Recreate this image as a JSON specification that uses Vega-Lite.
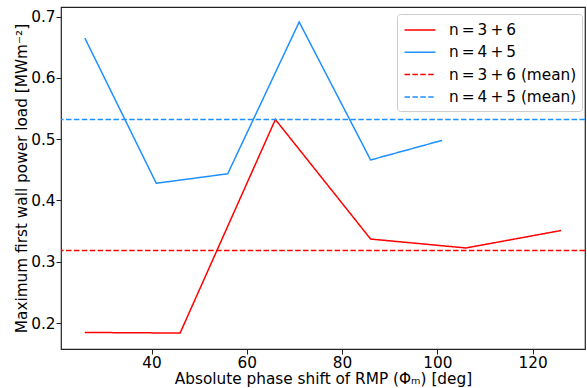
{
  "$schema": "https://vega.github.io/schema/vega-lite/v6.json",
  "width": 524,
  "height": 342,
  "autosize": {"type": "none"},
  "padding": {"left": 61, "top": 7, "right": 2, "bottom": 39},
  "config": {
    "font": "DejaVu Sans",
    "view": {"stroke": "#222", "strokeWidth": 1.2},
    "axis": {
      "domain": false,
      "grid": false,
      "tickColor": "#222",
      "tickSize": 5,
      "tickWidth": 1,
      "labelFontSize": 15.3,
      "labelColor": "#000",
      "labelPadding": 1,
      "titleFontSize": 15.3,
      "titleFontWeight": "normal",
      "titleColor": "#000"
    },
    "legend": {
      "orient": "none",
      "legendX": 336,
      "legendY": 7,
      "padding": 5,
      "strokeColor": "#cccccc",
      "fillColor": "#ffffff",
      "cornerRadius": 3,
      "labelFontSize": 15.3,
      "labelColor": "#000",
      "symbolType": "M-1.55,0H1.55",
      "symbolSize": 400,
      "symbolStrokeWidth": 1.5,
      "symbolFillColor": "transparent",
      "symbolOffset": 7,
      "labelOffset": 18,
      "rowPadding": 2.3
    }
  },
  "layer": [
    {
      "data": {
        "values": [
          {"x": 26, "y": 0.1847, "series": "n\u2009=\u20093\u2009+\u20096"},
          {"x": 46, "y": 0.1837, "series": "n\u2009=\u20093\u2009+\u20096"},
          {"x": 66, "y": 0.532, "series": "n\u2009=\u20093\u2009+\u20096"},
          {"x": 86, "y": 0.337, "series": "n\u2009=\u20093\u2009+\u20096"},
          {"x": 106, "y": 0.3225, "series": "n\u2009=\u20093\u2009+\u20096"},
          {"x": 126, "y": 0.351, "series": "n\u2009=\u20093\u2009+\u20096"},
          {"x": 26, "y": 0.665, "series": "n\u2009=\u20094\u2009+\u20095"},
          {"x": 41, "y": 0.428, "series": "n\u2009=\u20094\u2009+\u20095"},
          {"x": 56, "y": 0.4435, "series": "n\u2009=\u20094\u2009+\u20095"},
          {"x": 71, "y": 0.691, "series": "n\u2009=\u20094\u2009+\u20095"},
          {"x": 86, "y": 0.466, "series": "n\u2009=\u20094\u2009+\u20095"},
          {"x": 101, "y": 0.498, "series": "n\u2009=\u20094\u2009+\u20095"}
        ]
      },
      "mark": {"type": "line", "strokeWidth": 1.5},
      "encoding": {
        "x": {
          "field": "x",
          "type": "quantitative",
          "scale": {"domain": [21, 131], "nice": false, "zero": false},
          "axis": {"values": [40, 60, 80, 100, 120], "title": "Absolute phase shift of RMP (Φₘ) [deg]", "titlePadding": 1}
        },
        "y": {
          "field": "y",
          "type": "quantitative",
          "scale": {"domain": [0.1577, 0.7155], "nice": false, "zero": false},
          "axis": {"values": [0.2, 0.3, 0.4, 0.5, 0.6, 0.7], "format": ".1f", "title": "Maximum first wall power load [MWm⁻²]", "titlePadding": 1}
        },
        "color": {
          "field": "series",
          "type": "nominal",
          "scale": {
            "domain": ["n\u2009=\u20093\u2009+\u20096", "n\u2009=\u20094\u2009+\u20095", "n\u2009=\u20093\u2009+\u20096 (mean)", "n\u2009=\u20094\u2009+\u20095 (mean)"],
            "range": ["#ff0000", "#1e90ff", "#ff0000", "#1e90ff"]
          },
          "legend": {"title": null}
        },
        "strokeDash": {
          "field": "series",
          "type": "nominal",
          "scale": {
            "domain": ["n\u2009=\u20093\u2009+\u20096", "n\u2009=\u20094\u2009+\u20095", "n\u2009=\u20093\u2009+\u20096 (mean)", "n\u2009=\u20094\u2009+\u20095 (mean)"],
            "range": [[1, 0], [1, 0], [5.5, 2.4], [5.5, 2.4]]
          },
          "legend": {"title": null}
        }
      }
    },
    {
      "data": {
        "values": [
          {"y": 0.3185, "series": "n\u2009=\u20093\u2009+\u20096 (mean)"},
          {"y": 0.532, "series": "n\u2009=\u20094\u2009+\u20095 (mean)"}
        ]
      },
      "mark": {"type": "rule", "strokeWidth": 1.5},
      "encoding": {
        "y": {"field": "y", "type": "quantitative"},
        "color": {"field": "series", "type": "nominal"},
        "strokeDash": {"field": "series", "type": "nominal"}
      }
    }
  ]
}
